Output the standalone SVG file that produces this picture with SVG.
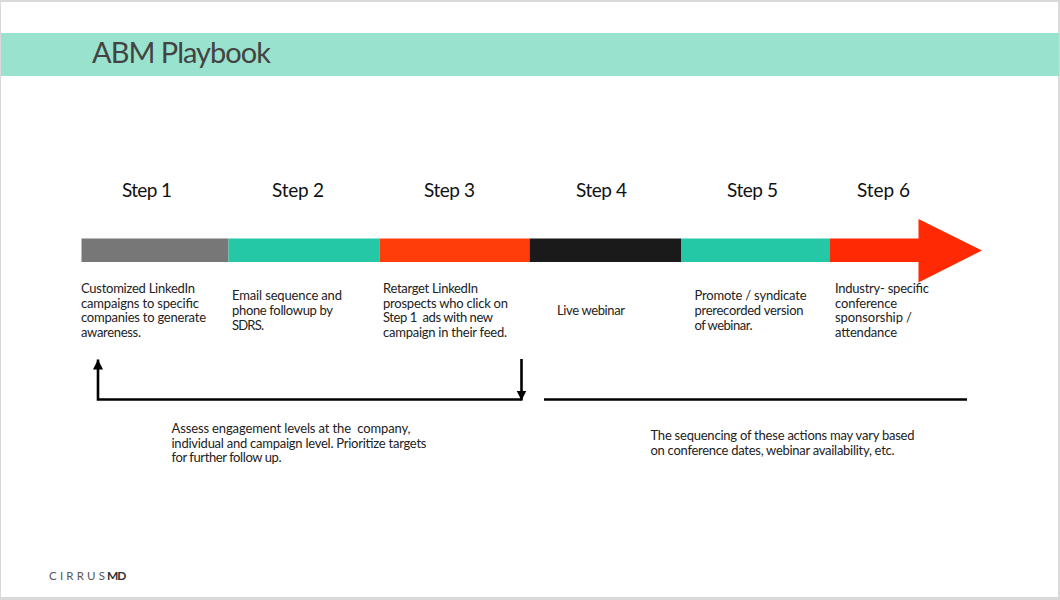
<svg xmlns="http://www.w3.org/2000/svg" width="1060" height="600" viewBox="0 0 1060 600">
<style>
text{font-family:"Lato","Liberation Sans",sans-serif}
.step{font-size:19px;fill:#111}
.body{font-size:13px;fill:#222}
.line{fill:none;stroke:#000;stroke-width:2.6}
</style>
<defs>
<marker id="head" markerUnits="userSpaceOnUse" markerWidth="12" markerHeight="12" refX="10" refY="5" orient="auto"><path d="M0 0L10 5L0 10Z" fill="#000"/></marker>
</defs>
<rect width="1060" height="600" fill="#d9d9d9"/>
<rect x="1" y="2" width="1057" height="595" fill="#fff"/>
<g id="header">
<rect x="1" y="33" width="1058" height="43" fill="#99e2ce"/>
<text x="92" y="63" font-size="29" fill="#434343" textLength="179">ABM Playbook</text>
</g>
<g id="step1">
<rect x="81.500" y="238.500" width="147" height="23.500" fill="#777"/>
<text class="step" x="122" y="197" textLength="50">Step 1</text>
<text class="body" x="81" y="293" textLength="114">Customized LinkedIn</text><text class="body" x="81" y="307.500" textLength="118">campaigns to specific</text><text class="body" x="81" y="322" textLength="125">companies to generate</text><text class="body" x="81" y="337" textLength="60">awareness.</text>
</g>
<g id="step2">
<rect x="228.500" y="238.500" width="151" height="23.500" fill="#24c7a6"/>
<text class="step" x="272" y="197" textLength="52">Step 2</text>
<text class="body" x="232" y="300" textLength="110">Email sequence and</text><text class="body" x="232" y="315" textLength="101">phone followup by</text><text class="body" x="232" y="330" textLength="32">SDRS.</text>
</g>
<g id="step3">
<rect x="379.500" y="238.500" width="150" height="23.500" fill="#ff3d0a"/>
<text class="step" x="424" y="197" textLength="51">Step 3</text>
<text class="body" x="383" y="293" textLength="95">Retarget LinkedIn</text><text class="body" x="383" y="307.500" textLength="125">prospects who click on</text><text class="body" x="383" y="322" textLength="110" xml:space="preserve">Step 1  ads with new</text><text class="body" x="383" y="337" textLength="124">campaign in their feed.</text>
</g>
<g id="step4">
<rect x="529.500" y="238.500" width="151.500" height="23.500" fill="#1a1a1a"/>
<text class="step" x="576" y="197" textLength="51">Step 4</text>
<text class="body" x="557" y="315" textLength="68">Live webinar</text>
</g>
<g id="step5">
<rect x="681" y="238.500" width="149" height="23.500" fill="#24c7a6"/>
<text class="step" x="727" y="197" textLength="51">Step 5</text>
<text class="body" x="694.500" y="300" textLength="112">Promote / syndicate</text><text class="body" x="694.500" y="315" textLength="109">prerecorded version</text><text class="body" x="694.500" y="330" textLength="58">of webinar.</text>
</g>
<g id="step6">
<path d="M830 238.500H918.500V219L982 250.500L918.500 282.500V262H830Z" fill="#ff2a03"/>
<text class="step" x="857" y="197" textLength="53">Step 6</text>
<text class="body" x="835" y="293" textLength="94">Industry- specific</text><text class="body" x="835" y="307.500" textLength="62">conference</text><text class="body" x="835" y="322" textLength="77">sponsorship /</text><text class="body" x="835" y="337" textLength="62">attendance</text>
</g>
<g id="connectors">
<path class="line" d="M521.500 399.500H98V359.500" marker-end="url(#head)"/>
<path class="line" d="M521.500 359V400.500" marker-end="url(#head)"/>
<path class="line" d="M544 399.500H967"/>
</g>
<g id="note-left">
<text class="body" x="171.500" y="433" textLength="239" xml:space="preserve">Assess engagement levels at the  company,</text><text class="body" x="171.500" y="447.500" textLength="255">individual and campaign level. Prioritize targets</text><text class="body" x="171.500" y="462" textLength="110">for further follow up.</text>
</g>
<g id="note-right">
<text class="body" x="650.500" y="440" textLength="264">The sequencing of these actions may vary based</text><text class="body" x="650.500" y="455" textLength="244">on conference dates, webinar availability, etc.</text>
</g>
<g id="logo">
<text x="49" y="580" font-size="11.500" fill="#555" textLength="56">CIRRUS</text>
<text x="107" y="580" font-size="12" font-weight="700" fill="#333" textLength="19.500">MD</text>
</g>
</svg>
